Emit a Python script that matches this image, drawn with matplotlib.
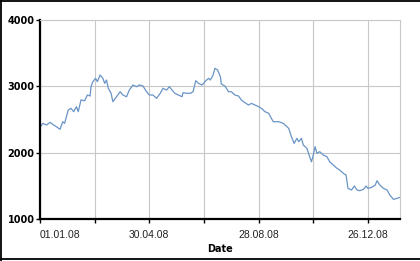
import datetime as dt
import matplotlib
matplotlib.use("Agg")
import matplotlib.pyplot as plt
from matplotlib.lines import Line2D

# days since 01.01.2008 and index values
days = [1, 3, 7, 11, 14, 18, 22, 25, 27, 31, 34, 37, 40, 42, 45, 49, 52, 55,
        56, 58, 61, 63, 66, 69, 71, 73, 75, 78, 80, 84, 88, 91, 95, 98, 102,
        106, 109, 113, 117, 120, 124, 128, 132, 135, 139, 142, 145, 148, 152,
        156, 157, 161, 165, 168, 171, 174, 178, 181, 185, 187, 190, 192, 195,
        198, 199, 203, 207, 210, 214, 218, 221, 225, 229, 232, 236, 240, 243,
        247, 251, 256, 262, 267, 273, 276, 279, 282, 284, 287, 289, 293, 296,
        298, 300, 302, 304, 307, 311, 315, 318, 322, 326, 329, 333, 336, 338,
        342, 345, 348, 351, 355, 358, 360, 364, 368, 370, 373, 377, 381, 384,
        388, 392, 395]
values = [2400, 2442, 2417, 2457, 2427, 2391, 2352, 2467, 2442, 2643, 2668,
          2618, 2693, 2618, 2794, 2783, 2869, 2854, 2994, 3070, 3121, 3070,
          3171, 3121, 3045, 3095, 2970, 2895, 2768, 2843, 2919, 2869, 2843,
          2944, 3020, 2994, 3020, 3005, 2919, 2870, 2869, 2819, 2895, 2970,
          2944, 2994, 2944, 2895, 2869, 2843, 2904, 2895, 2895, 2919, 3085,
          3045, 3020, 3070, 3121, 3095, 3171, 3272, 3246, 3145, 3035, 3005,
          2919, 2919, 2869, 2854, 2794, 2753, 2718, 2743, 2718, 2693, 2668,
          2618, 2593, 2467, 2467, 2442, 2367, 2240, 2140, 2216, 2165, 2216,
          2115, 2065, 1939, 1863, 1964, 2090, 1990, 2015, 1964, 1939, 1863,
          1813, 1763, 1738, 1688, 1663, 1462, 1437, 1497, 1437, 1427, 1447,
          1497, 1462, 1477, 1512, 1577, 1512, 1462, 1437, 1361, 1296, 1311,
          1326]

start = dt.datetime(2008, 1, 1)
dates = [start + dt.timedelta(days=d) for d in days]
tick_dates = [start + dt.timedelta(days=60 * i) for i in range(7)]
tick_labels = ["01.01.08", "", "30.04.08", "", "28.08.08", "", "26.12.08"]
y_ticks = [1000, 2000, 3000, 4000]

fig = plt.figure(figsize=(4.2, 2.61), dpi=100)
ax = fig.add_axes([40 / 420, 42 / 261, 360.3 / 420, 199 / 261])

ax.plot(dates, values, color="#6994c6", lw=0.9)

ax.set_xlim(start, start + dt.timedelta(days=395.5))
ax.set_ylim(1000, 4000)
ax.set_xticks(tick_dates)
ax.set_xticklabels(tick_labels, fontname="Liberation Sans", fontsize=7.5,
                   color="#222222")
ax.get_xticklabels()[0].set_horizontalalignment("left")
ax.set_yticks(y_ticks)
ax.set_yticklabels([str(v) for v in y_ticks], fontweight="bold", fontsize=7)
ax.tick_params(axis="both", length=3, width=1, color="black")
ax.tick_params(axis="x", pad=5)
ax.tick_params(axis="y", pad=1)

ax.grid(True, color="#c8c8c8", lw=0.8)
ax.set_axisbelow(True)
for s in ["top", "right"]:
    ax.spines[s].set_color("#c8c8c8")
    ax.spines[s].set_linewidth(0.8)
for s in ["left", "bottom"]:
    ax.spines[s].set_linewidth(1.6)
    ax.spines[s].set_color("black")

ax.set_xlabel("Date", fontweight="bold", fontsize=7, labelpad=3)

# outer frame: top, left and bottom edges only
for xs, ys in [([0, 1], [0.998, 0.998]), ([0.002, 0.002], [0, 1]),
               ([0, 1], [0.006, 0.006])]:
    fig.lines.append(Line2D(xs, ys, transform=fig.transFigure,
                            color="black", lw=1.3))

fig.savefig("out.png", dpi=100)
